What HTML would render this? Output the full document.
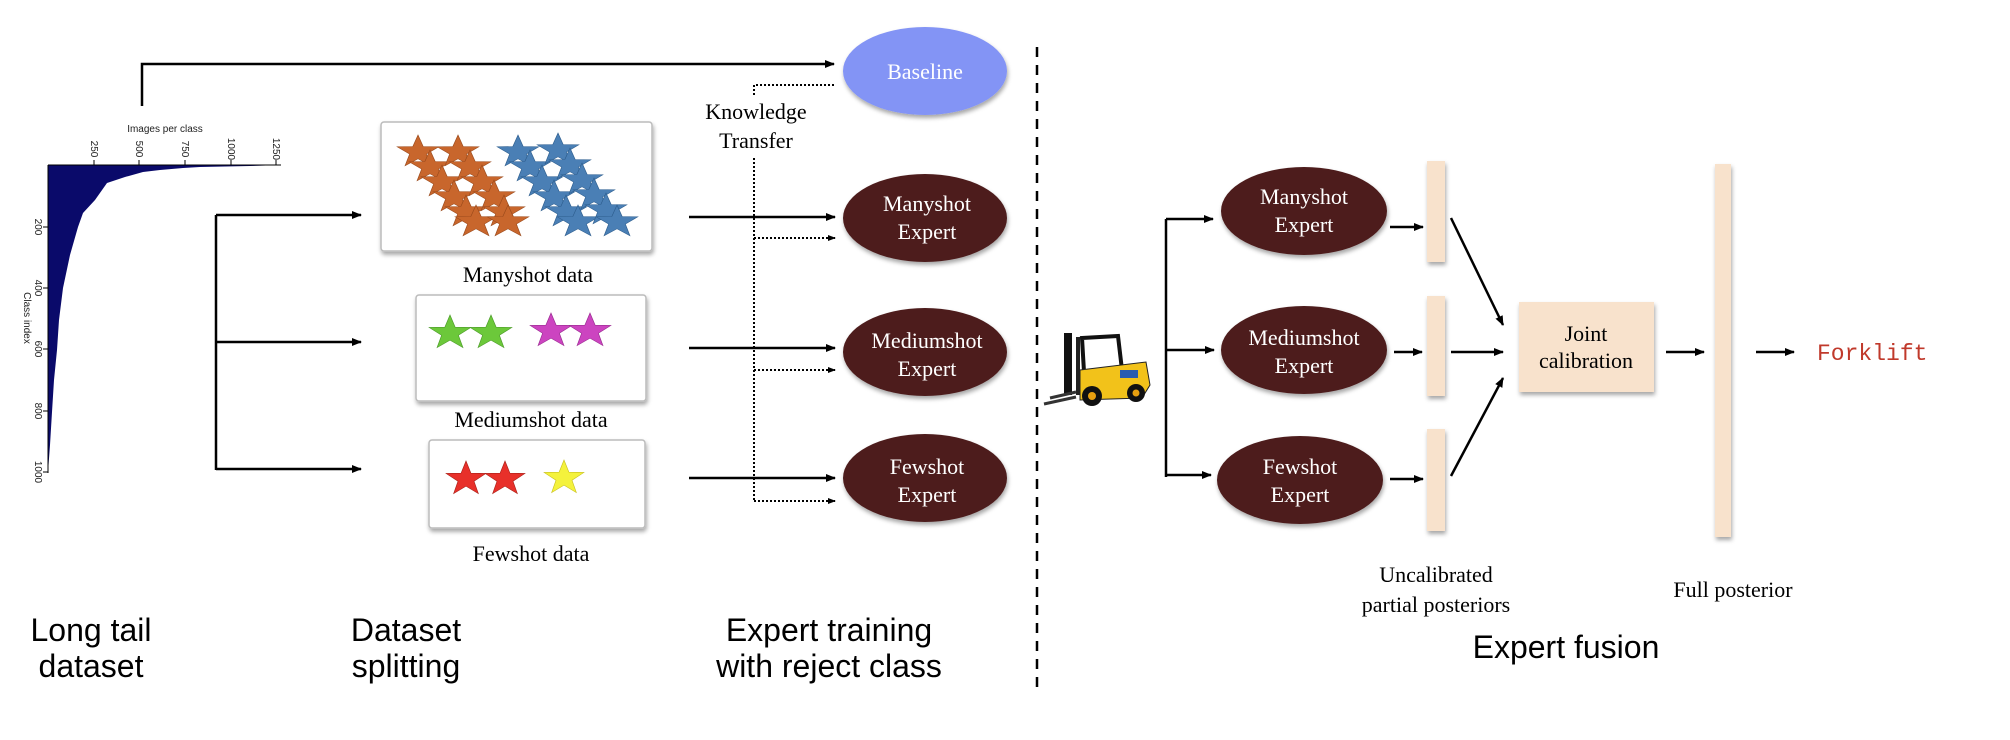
<!DOCTYPE html>
<html><head><meta charset="utf-8"><style>
html,body{margin:0;padding:0;background:#fff;}
svg{display:block;}
.serif{font-family:"Liberation Serif",serif;}
.sans{font-family:"Liberation Sans",sans-serif;}
</style></head><body>
<svg width="2010" height="740" viewBox="0 0 2010 740" xmlns="http://www.w3.org/2000/svg">
<defs>
<marker id="ah" markerWidth="10" markerHeight="10" refX="9" refY="5" orient="auto" markerUnits="userSpaceOnUse"><path d="M0,1 L10,5 L0,9 Z" fill="#000"/></marker>
<marker id="ahs" markerWidth="8" markerHeight="8" refX="7" refY="4" orient="auto" markerUnits="userSpaceOnUse"><path d="M0,1 L8,4 L0,7 Z" fill="#000"/></marker>
<path id="st" d="M0,-20 L4.7,-6.47 19.02,-6.18 7.61,2.47 11.76,16.18 0,8 -11.76,16.18 -7.61,2.47 -19.02,-6.18 -4.7,-6.47Z"/>
<filter id="sh" x="-20%" y="-20%" width="140%" height="150%"><feDropShadow dx="1" dy="3" stdDeviation="2" flood-opacity="0.35"/></filter>
</defs>

<!-- chart -->
<path d="M48,165 L281,165 L250,166 L200,167 L183,168 L160,170 L143,172 L125,177 L107,183 L95,200 L83,213 L78,227 L70,255 L63,288 L59,320 L57,350 L54,380 L52,412 L50,445 L48,472 Z" fill="#0a0a6a"/>
<line x1="48" y1="165" x2="48" y2="473" stroke="#000" stroke-width="1"/>
<line x1="48" y1="165" x2="281" y2="165" stroke="#000" stroke-width="1"/>
<g stroke="#000" stroke-width="1">
<line x1="94" y1="160" x2="94" y2="165"/><line x1="139" y1="160" x2="139" y2="165"/><line x1="185" y1="160" x2="185" y2="165"/><line x1="231" y1="160" x2="231" y2="165"/><line x1="276" y1="160" x2="276" y2="165"/>
<line x1="43" y1="227" x2="48" y2="227"/><line x1="43" y1="288" x2="48" y2="288"/><line x1="43" y1="349" x2="48" y2="349"/><line x1="43" y1="411" x2="48" y2="411"/><line x1="43" y1="472" x2="48" y2="472"/>
</g>
<g class="sans" font-size="10" fill="#222">
<text x="165" y="132" text-anchor="middle">Images per class</text>
<text transform="translate(91,149) rotate(90)" text-anchor="middle">250</text>
<text transform="translate(136,149) rotate(90)" text-anchor="middle">500</text>
<text transform="translate(182,149) rotate(90)" text-anchor="middle">750</text>
<text transform="translate(228,149) rotate(90)" text-anchor="middle">1000</text>
<text transform="translate(273,149) rotate(90)" text-anchor="middle">1250</text>
<text transform="translate(35,227) rotate(90)" text-anchor="middle">200</text>
<text transform="translate(35,288) rotate(90)" text-anchor="middle">400</text>
<text transform="translate(35,349) rotate(90)" text-anchor="middle">600</text>
<text transform="translate(35,411) rotate(90)" text-anchor="middle">800</text>
<text transform="translate(35,472) rotate(90)" text-anchor="middle">1000</text>
<text transform="translate(24,318) rotate(90)" text-anchor="middle">Class index</text>
</g>

<!-- top baseline line -->
<polyline points="142,106 142,64 834,64" fill="none" stroke="#000" stroke-width="2.5" marker-end="url(#ah)"/>
<ellipse cx="925" cy="71" rx="82" ry="44" fill="#8394f5" filter="url(#sh)"/>
<text x="925" y="79" class="serif" font-size="22" fill="#fff" text-anchor="middle">Baseline</text>
<polyline points="834,85 754,85 754,95" fill="none" stroke="#000" stroke-width="2" stroke-dasharray="2,2"/>
<text x="756" y="119" class="serif" font-size="22" text-anchor="middle">Knowledge</text>
<text x="756" y="148" class="serif" font-size="22" text-anchor="middle">Transfer</text>
<line x1="754" y1="158" x2="754" y2="501" stroke="#000" stroke-width="2" stroke-dasharray="2,2"/>

<!-- split bracket -->
<line x1="216" y1="215" x2="216" y2="470" stroke="#000" stroke-width="2.5"/>
<line x1="216" y1="215" x2="361" y2="215" stroke="#000" stroke-width="2.5" marker-end="url(#ah)"/>
<line x1="216" y1="342" x2="361" y2="342" stroke="#000" stroke-width="2.5" marker-end="url(#ah)"/>
<line x1="216" y1="469" x2="361" y2="469" stroke="#000" stroke-width="2.5" marker-end="url(#ah)"/>

<!-- data boxes -->
<rect x="381" y="122" width="271" height="129" rx="3" fill="#fff" stroke="#bbb" stroke-width="1.5" filter="url(#sh)"/>
<rect x="416" y="295" width="230" height="106" rx="3" fill="#fff" stroke="#bbb" stroke-width="1.5" filter="url(#sh)"/>
<rect x="429" y="440" width="216" height="88" rx="3" fill="#fff" stroke="#bbb" stroke-width="1.5" filter="url(#sh)"/>
<g fill="#c8662c" stroke="#9a4a1c" stroke-width="0.6">
<use href="#st" transform="translate(418,152) scale(1.1,0.85)"/><use href="#st" transform="translate(430,167) scale(1.1,0.85)"/><use href="#st" transform="translate(442,182) scale(1.1,0.85)"/><use href="#st" transform="translate(454,197) scale(1.1,0.85)"/><use href="#st" transform="translate(466,212) scale(1.1,0.85)"/><use href="#st" transform="translate(476,222) scale(1.1,0.85)"/>
<use href="#st" transform="translate(458,152) scale(1.1,0.85)"/><use href="#st" transform="translate(470,167) scale(1.1,0.85)"/><use href="#st" transform="translate(482,182) scale(1.1,0.85)"/><use href="#st" transform="translate(494,197) scale(1.1,0.85)"/><use href="#st" transform="translate(504,212) scale(1.1,0.85)"/><use href="#st" transform="translate(508,222) scale(1.1,0.85)"/>
</g>
<g fill="#4a7fb5" stroke="#2e5e8e" stroke-width="0.6">
<use href="#st" transform="translate(518,152) scale(1.1,0.85)"/><use href="#st" transform="translate(530,167) scale(1.1,0.85)"/><use href="#st" transform="translate(542,182) scale(1.1,0.85)"/><use href="#st" transform="translate(554,197) scale(1.1,0.85)"/><use href="#st" transform="translate(566,212) scale(1.1,0.85)"/><use href="#st" transform="translate(578,222) scale(1.1,0.85)"/>
<use href="#st" transform="translate(558,150) scale(1.1,0.85)"/><use href="#st" transform="translate(570,165) scale(1.1,0.85)"/><use href="#st" transform="translate(582,180) scale(1.1,0.85)"/><use href="#st" transform="translate(594,195) scale(1.1,0.85)"/><use href="#st" transform="translate(606,210) scale(1.1,0.85)"/><use href="#st" transform="translate(617,222) scale(1.1,0.85)"/>
</g>
<g fill="#6cc83a" stroke="#4c9a2a" stroke-width="0.6">
<use href="#st" transform="translate(450,333) scale(1.1,0.9)"/><use href="#st" transform="translate(491,333) scale(1.1,0.9)"/>
</g>
<g fill="#cc44c0" stroke="#992c90" stroke-width="0.6">
<use href="#st" transform="translate(551,331) scale(1.1,0.9)"/><use href="#st" transform="translate(590,331) scale(1.1,0.9)"/>
</g>
<g fill="#e8302a" stroke="#a82018" stroke-width="0.6"><use href="#st" transform="translate(466,479) scale(1.05,0.9)"/><use href="#st" transform="translate(505,479) scale(1.05,0.9)"/></g>
<use href="#st" transform="translate(564,478) scale(1.05,0.9)" fill="#f4f23c" stroke="#c8c020" stroke-width="0.6"/>
<g class="serif" font-size="22" text-anchor="middle">
<text x="528" y="282">Manyshot data</text>
<text x="531" y="427">Mediumshot data</text>
<text x="531" y="561">Fewshot data</text>
</g>

<!-- expert training arrows -->
<g stroke="#000" stroke-width="2.5">
<line x1="689" y1="217" x2="835" y2="217" marker-end="url(#ah)"/>
<line x1="689" y1="348" x2="835" y2="348" marker-end="url(#ah)"/>
<line x1="689" y1="478" x2="835" y2="478" marker-end="url(#ah)"/>
</g>
<g stroke="#000" stroke-width="2" stroke-dasharray="2,2">
<line x1="754" y1="238" x2="835" y2="238" marker-end="url(#ahs)"/>
<line x1="754" y1="370" x2="835" y2="370" marker-end="url(#ahs)"/>
<line x1="754" y1="501" x2="835" y2="501" marker-end="url(#ahs)"/>
</g>
<g fill="#4d1f1f" filter="url(#sh)">
<ellipse cx="925" cy="218" rx="82" ry="44"/><ellipse cx="925" cy="352" rx="82" ry="44"/><ellipse cx="925" cy="478" rx="82" ry="44"/>
<ellipse cx="1304" cy="211" rx="83" ry="44"/><ellipse cx="1304" cy="350" rx="83" ry="44"/><ellipse cx="1300" cy="480" rx="83" ry="44"/>
</g>
<g class="serif" font-size="22" fill="#fff" text-anchor="middle">
<text x="927" y="211">Manyshot</text><text x="927" y="239">Expert</text>
<text x="927" y="348">Mediumshot</text><text x="927" y="376">Expert</text>
<text x="927" y="474">Fewshot</text><text x="927" y="502">Expert</text>
<text x="1304" y="204">Manyshot</text><text x="1304" y="232">Expert</text>
<text x="1304" y="345">Mediumshot</text><text x="1304" y="373">Expert</text>
<text x="1300" y="474">Fewshot</text><text x="1300" y="502">Expert</text>
</g>

<!-- dashed separator -->
<line x1="1037" y1="47" x2="1037" y2="689" stroke="#000" stroke-width="2.5" stroke-dasharray="10,8"/>

<!-- forklift -->
<g>
<rect x="1064" y="333" width="8" height="62" fill="#111"/>
<rect x="1076" y="337" width="4" height="58" fill="#222"/>
<path d="M1082,338 L1118,336 L1122,370 L1084,372 Z" fill="none" stroke="#111" stroke-width="4"/>
<path d="M1080,370 L1146,362 L1150,385 L1142,398 L1080,400 Z" fill="#f2c21a" stroke="#222" stroke-width="1"/>
<rect x="1120" y="370" width="18" height="8" fill="#2a5cb0"/>
<circle cx="1092" cy="396" r="10" fill="#111"/><circle cx="1092" cy="396" r="4" fill="#e8a010"/>
<circle cx="1136" cy="393" r="9" fill="#111"/><circle cx="1136" cy="393" r="3.5" fill="#e8a010"/>
<line x1="1044" y1="404" x2="1076" y2="397" stroke="#333" stroke-width="3"/>
<line x1="1050" y1="398" x2="1076" y2="392" stroke="#333" stroke-width="3"/>
</g>

<!-- fusion arrows -->
<line x1="1166" y1="219" x2="1166" y2="477" stroke="#000" stroke-width="2.5"/>
<g stroke="#000" stroke-width="2.5">
<line x1="1166" y1="219" x2="1213" y2="219" marker-end="url(#ah)"/>
<line x1="1166" y1="350" x2="1214" y2="350" marker-end="url(#ah)"/>
<line x1="1166" y1="475" x2="1211" y2="475" marker-end="url(#ah)"/>
<line x1="1390" y1="227" x2="1423" y2="227" marker-end="url(#ah)"/>
<line x1="1394" y1="352" x2="1422" y2="352" marker-end="url(#ah)"/>
<line x1="1390" y1="479" x2="1423" y2="479" marker-end="url(#ah)"/>
<line x1="1451" y1="218" x2="1503" y2="325" marker-end="url(#ah)"/>
<line x1="1451" y1="352" x2="1503" y2="352" marker-end="url(#ah)"/>
<line x1="1451" y1="476" x2="1503" y2="378" marker-end="url(#ah)"/>
<line x1="1666" y1="352" x2="1704" y2="352" marker-end="url(#ah)"/>
<line x1="1756" y1="352" x2="1794" y2="352" marker-end="url(#ah)"/>
</g>
<g fill="#f8e2cc" filter="url(#sh)">
<rect x="1427" y="161" width="18" height="101"/>
<rect x="1427" y="296" width="18" height="100"/>
<rect x="1427" y="429" width="18" height="102"/>
<rect x="1519" y="302" width="135" height="90"/>
<rect x="1715" y="164" width="16" height="373"/>
</g>
<g class="serif" font-size="22" text-anchor="middle">
<text x="1586" y="341">Joint</text>
<text x="1586" y="368">calibration</text>
<text x="1436" y="582">Uncalibrated</text>
<text x="1436" y="612">partial posteriors</text>
<text x="1733" y="597">Full posterior</text>
</g>
<text x="1817" y="360" font-family="Liberation Mono,monospace" font-size="23" fill="#c0392b">Forklift</text>

<!-- bottom stage labels -->
<g class="sans" font-size="32" text-anchor="middle">
<text x="91" y="641">Long tail</text><text x="91" y="677">dataset</text>
<text x="406" y="641">Dataset</text><text x="406" y="677">splitting</text>
<text x="829" y="641">Expert training</text><text x="829" y="677">with reject class</text>
<text x="1566" y="658">Expert fusion</text>
</g>
</svg>
</body></html>
